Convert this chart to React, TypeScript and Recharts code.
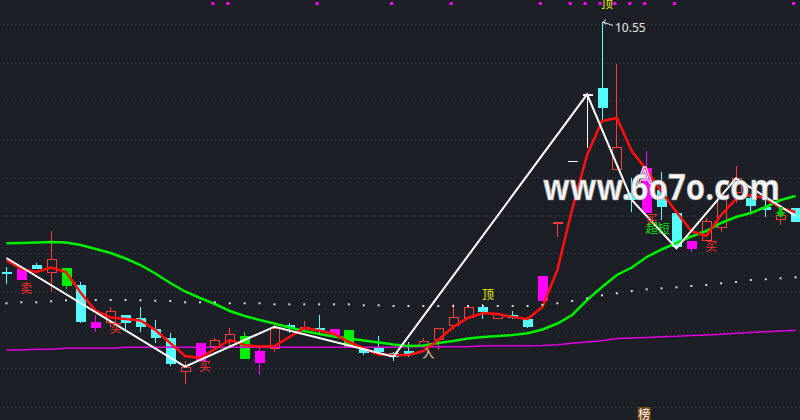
import React from "react";
import {
  ComposedChart,
  Bar,
  Line,
  XAxis,
  YAxis,
  CartesianGrid,
  ReferenceDot,
} from "recharts";

// candle kinds: c = falling (cyan), r = rising (red hollow), m = magenta, g = green, w = white
const kinds = "cmcrgcmrccccrmrrgmrcrcmgccccrrrrcrccmrwwcrcmccmrrrccrc".split("");

const open = [
  9.3, 9.315, 9.335, 9.293, 9.321, 9.235, 9.05, 9.046, 9.085, 9.07,
  9.015, 8.971, 8.798, 8.946, 8.925, 8.948, 8.981, 8.905, 8.913, 9.035,
  9.013, 9.02, 9.015, 9.01, 8.913, 8.918, 8.893, 8.905, 8.925, 8.96,
  9.031, 9.068, 9.123, 9.065, 9.085, 9.065, 9.28, 9.543, 9.856, 10.188,
  10.218, 9.81, 9.695, 9.818, 9.71, 9.593, 9.456, 9.456, 9.52, 9.693,
  9.671, 9.626, 9.56, 9.618,
];
const close = [
  9.29, 9.26, 9.314, 9.363, 9.231, 9.051, 9.021, 9.105, 9.046, 9.026,
  8.972, 8.838, 8.826, 8.855, 8.96, 8.99, 8.865, 8.843, 9.02, 9.02,
  9.026, 9.01, 8.981, 8.918, 8.896, 8.901, 8.876, 8.89, 8.955, 9.022,
  9.073, 9.123, 9.098, 9.088, 9.068, 9.026, 9.156, 9.551, 9.856, 10.188,
  10.118, 9.926, 9.66, 9.593, 9.626, 9.426, 9.413, 9.555, 9.675, 9.768,
  9.63, 9.61, 9.585, 9.551,
];
const high = [
  9.325, 9.315, 9.347, 9.505, 9.321, 9.248, 9.085, 9.123, 9.085, 9.125,
  9.06, 8.996, 8.855, 8.946, 8.972, 9.021, 8.998, 8.921, 9.045, 9.047,
  9.055, 9.085, 9.015, 9.01, 8.913, 8.98, 8.901, 8.95, 8.968, 9.022,
  9.14, 9.123, 9.14, 9.088, 9.105, 9.076, 9.28, 9.551, 9.856, 10.188,
  10.55, 10.338, 9.768, 9.905, 9.801, 9.593, 9.456, 9.57, 9.675, 9.83,
  9.685, 9.66, 9.635, 9.618,
];
const low = [
  9.24, 9.26, 9.314, 9.2, 9.215, 9.043, 9.0, 9.025, 9.01, 9.001,
  8.945, 8.83, 8.738, 8.855, 8.91, 8.93, 8.865, 8.785, 8.9, 8.993,
  9.01, 8.995, 8.981, 8.918, 8.885, 8.89, 8.856, 8.875, 8.925, 8.91,
  9.015, 9.068, 9.063, 9.065, 9.063, 9.021, 9.156, 9.473, 9.856, 9.918,
  10.05, 9.81, 9.601, 9.593, 9.56, 9.413, 9.401, 9.456, 9.5, 9.643,
  9.601, 9.576, 9.535, 9.551,
];

// red fast line
const fastLine = [
  9.36, 9.315, 9.3, 9.3225, 9.3, 9.195, 9.105, 9.0725, 9.065, 9.0575,
  9.01, 8.945, 8.88, 8.87, 8.915, 8.96, 8.935, 8.927, 8.93, 8.975,
  9.02, 9.0075, 8.99, 8.95, 8.9175, 8.8875, 8.885, 8.885, 8.905, 8.96,
  9.025, 9.07, 9.095, 9.09, 9.075, 9.065, 9.125, 9.31, 9.615, 9.885,
  10.055, 10.07, 9.905, 9.81, 9.7, 9.6, 9.505, 9.48, 9.585, 9.665,
  9.685, 9.6675, 9.62, 9.6,
];
// green slow line
const slowLine = [
  9.4435, 9.445, 9.4475, 9.45, 9.4475, 9.435, 9.415, 9.395, 9.3675, 9.335,
  9.2925, 9.245, 9.2025, 9.17, 9.14, 9.105, 9.08, 9.06, 9.0425, 9.0225,
  9.005, 8.99, 8.9775, 8.9675, 8.9575, 8.9475, 8.9375, 8.93, 8.9325, 8.945,
  8.955, 8.9675, 8.975, 8.98, 8.985, 8.9935, 9.0125, 9.0425, 9.085, 9.16,
  9.225, 9.285, 9.3225, 9.375, 9.4125, 9.445, 9.4775, 9.505, 9.545, 9.575,
  9.595, 9.625, 9.66, 9.68,
];
// magenta long line
const longLine = [
  8.91, 8.91, 8.9135, 8.9135, 8.9185, 8.9185, 8.9185, 8.9185, 8.9235, 8.9235,
  8.9235, 8.9235, 8.9235, 8.9235, 8.9235, 8.9235, 8.9235, 8.9235, 8.9235, 8.9235,
  8.9235, 8.9235, 8.9235, 8.9235, 8.9235, 8.9235, 8.9235, 8.9265, 8.9265, 8.9265,
  8.9265, 8.9265, 8.9315, 8.9315, 8.9315, 8.9315, 8.9325, 8.9365, 8.9435, 8.95,
  8.9565, 8.9675, 8.97, 8.9725, 8.9765, 8.9785, 8.9825, 8.985, 8.9885, 8.9935,
  8.9975, 9.0015, 9.005, 9.0085,
];
// white dotted line
const dotLine = [
  9.1435, 9.1485, 9.1485, 9.1535, 9.1585, 9.16, 9.16, 9.16, 9.16, 9.1585,
  9.1565, 9.155, 9.1485, 9.1485, 9.1485, 9.1435, 9.1435, 9.1435, 9.1385, 9.1385,
  9.1385, 9.1385, 9.1385, 9.1385, 9.1335, 9.1335, 9.13, 9.13, 9.13, 9.13,
  9.13, 9.13, 9.13, 9.13, 9.13, 9.13, 9.135, 9.1435, 9.155, 9.1685,
  9.1835, 9.1935, 9.205, 9.2135, 9.2185, 9.2235, 9.23, 9.235, 9.2435, 9.25,
  9.26, 9.2635, 9.2685, 9.2735,
];
// white zigzag turning points
const zigIdx = [0, 12, 18, 26, 39, 42, 45, 49, 53];
const zigVal = [9.37, 8.8265, 9.0265, 8.8765, 10.1885, 9.66, 9.4185, 9.7685, 9.58];

// magenta signal squares along the top
const signalIdx = [14, 15, 21, 26, 30, 36, 38, 39, 40, 41, 42, 43, 45, 53];
const SIGNAL_LEVEL = 10.6425;

// text marks
const markIdx = [1, 7, 13, 28, 32, 40, 43, 43, 47];
const markVal = [9.25, 9.05, 8.86, 8.925, 9.22, 10.675, 9.595, 9.55, 9.46];
const markText = ["卖", "买", "买", "入", "顶", "顶", "买", "超短", "买"];

const markColor: Record<string, string> = {
  卖: "#ff3030",
  买: "#ff3030",
  入: "#f2d0b0",
  顶: "#f0f000",
  超短: "#10e010",
};

const CANDLE_COLOR: Record<string, string> = {
  c: "#54fcfc",
  r: "#ff3c3c",
  m: "#ff00ff",
  g: "#00f000",
  w: "#ffffff",
};

const data = open.map((o, i) => {
  const z = zigIdx.indexOf(i);
  return {
    i,
    open: o,
    close: close[i],
    high: high[i],
    low: low[i],
    kind: kinds[i],
    range: [low[i], high[i]],
    fast: fastLine[i],
    slow: slowLine[i],
    longLine: longLine[i],
    dotLine: dotLine[i],
    zig: z >= 0 ? zigVal[z] : null,
    sig: signalIdx.includes(i) ? SIGNAL_LEVEL : null,
  };
});

const CJK = '"Noto Sans CJK SC", "Noto Sans", sans-serif';

const Candle = (props: any) => {
  const { x, y, width, height, payload } = props;
  if (!payload || x == null) return <g />;
  const { open: o, close: c, high: h, low: l, kind } = payload;
  const color = CANDLE_COLOR[kind];
  const top0 = Math.min(y, y + height);
  const hgt = Math.abs(height);
  const range = h - l;
  const toY = (v: number) => (range > 0 ? top0 + ((h - v) / range) * hgt : top0);
  const bTop = toY(Math.max(o, c));
  const bBot = toY(Math.min(o, c));
  const cx = Math.round(x + width / 2) + 0.5;
  const left = Math.round(cx - width / 2);
  if (kind === "r") {
    return (
      <g shapeRendering="crispEdges">
        <line x1={cx} x2={cx} y1={top0} y2={bTop} stroke={color} />
        <line x1={cx} x2={cx} y1={bBot} y2={top0 + hgt} stroke={color} />
        <rect
          x={left + 0.5}
          y={bTop + 0.5}
          width={width - 1}
          height={Math.max(bBot - bTop - 1, 1)}
          fill="none"
          stroke={color}
        />
      </g>
    );
  }
  return (
    <g shapeRendering="crispEdges">
      <line x1={cx} x2={cx} y1={top0} y2={top0 + hgt} stroke={color} />
      <rect x={left} y={bTop} width={width} height={Math.max(bBot - bTop, 1.5)} fill={color} />
    </g>
  );
};

const DotMark = (p: any) => {
  if (p.cy == null || p.value == null) return <g key={`d${p.index}`} />;
  return <rect key={`d${p.index}`} x={p.cx - 1} y={p.cy - 1} width={2} height={2} fill="#d8d8d8" />;
};

const SignalMark = (p: any) => {
  if (p.cy == null || p.value == null) return <g key={`s${p.index}`} />;
  return <rect key={`s${p.index}`} x={p.cx - 3.5} y={p.cy - 1.5} width={3} height={3} fill="#ff00ff" />;
};

export default function App() {
  const peak = high.indexOf(Math.max(...high));
  return (
    <div
      style={{
        position: "fixed",
        left: 0,
        top: 0,
        width: 800,
        height: 420,
        overflow: "hidden",
        background: "#1c1f26",
      }}
    >
      <div style={{ position: "absolute", left: -1.4, top: 0 }}>
        <ComposedChart width={804} height={420} data={data} margin={{ top: 0, right: 0, bottom: 0, left: 0 }}>
          <CartesianGrid
            vertical={false}
            horizontalPoints={[25, 63, 101, 140, 178, 216, 254, 292, 331, 369, 407]}
            stroke="#40434b"
            strokeDasharray="1 3"
          />
          <XAxis dataKey="i" type="category" hide />
          <YAxis type="number" domain={[8.56, 10.66]} hide allowDataOverflow />
          <Line
            dataKey="longLine"
            stroke="#e000e0"
            strokeWidth={1.5}
            dot={false}
            activeDot={false}
            isAnimationActive={false}
          />
          <Line
            dataKey="dotLine"
            stroke="none"
            dot={DotMark}
            activeDot={false}
            isAnimationActive={false}
          />
          <Line
            dataKey="slow"
            stroke="#00ee00"
            strokeWidth={2.5}
            dot={false}
            activeDot={false}
            isAnimationActive={false}
          />
          <Bar dataKey="range" barSize={10} shape={Candle} isAnimationActive={false} />
          <Line
            dataKey="fast"
            stroke="#ff1010"
            strokeWidth={2.5}
            dot={false}
            activeDot={false}
            isAnimationActive={false}
          />
          <Line
            dataKey="zig"
            stroke="#ffffff"
            strokeWidth={2}
            connectNulls
            dot={false}
            activeDot={false}
            isAnimationActive={false}
          />
          <Line
            dataKey="sig"
            stroke="none"
            dot={SignalMark}
            activeDot={false}
            isAnimationActive={false}
          />
          {markIdx.map((mi, k) => (
            <ReferenceDot
              key={`m${k}`}
              x={mi}
              y={markVal[k]}
              ifOverflow="visible"
              shape={(p: any) => (
                <text
                  x={p.cx - 1}
                  y={p.cy + 10.5}
                  fill={markColor[markText[k]]}
                  fontSize={12}
                  fontFamily={CJK}
                  textAnchor="start"
                >
                  {markText[k]}
                </text>
              )}
            />
          ))}
          <ReferenceDot
            x={43}
            y={9.825}
            ifOverflow="visible"
            shape={(p: any) => (
              <text
                x={p.cx - 2}
                y={p.cy + 17}
                fill="none"
                stroke="#ffffff"
                strokeWidth={1}
                fontSize={23}
                fontFamily="DejaVu Sans"
                textAnchor="middle"
              >
                A
              </text>
            )}
          />
          <ReferenceDot
            x={52}
            y={9.625}
            ifOverflow="visible"
            shape={(p: any) => (
              <path
                d={`M${p.cx - 2},${p.cy} h4 v5 h3 l-5,6 l-5,-6 h3 z`}
                fill="#10c010"
              />
            )}
          />
          <ReferenceDot
            x={43}
            y={8.625}
            ifOverflow="visible"
            shape={(p: any) => (
              <g>
                <rect x={p.cx - 9} y={p.cy} width={13} height={14} fill="#7a4512" />
                <text x={p.cx - 2.5} y={p.cy + 11.5} fill="#ffffff" fontSize={12} fontFamily={CJK} textAnchor="middle">
                  榜
                </text>
              </g>
            )}
          />
          <ReferenceDot
            x={peak}
            y={high[peak]}
            ifOverflow="visible"
            shape={(p: any) => (
              <g>
                <path
                  d={`M${p.cx + 11},${p.cy + 3.5} L${p.cx + 1},${p.cy} M${p.cx + 1},${p.cy} l3,-2.5 M${p.cx + 1},${p.cy} l3,2.5`}
                  stroke="#e8e8e8"
                  strokeWidth={1}
                  fill="none"
                />
                <text x={p.cx + 13} y={p.cy + 9.5} fill="#e6e6e6" fontSize={12} fontFamily="Noto Sans">
                  {high[peak].toFixed(2)}
                </text>
              </g>
            )}
          />
        </ComposedChart>
      </div>
      <svg width={800} height={420} style={{ position: "absolute", left: 0, top: 0, pointerEvents: "none" }}>
        <text
          x={543}
          y={200}
          fill="#f4f4f4"
          stroke="#9a9a9a"
          strokeWidth={0.6}
          fontSize={35}
          fontWeight="bold"
          fontFamily="Noto Sans"
          textLength={237}
          lengthAdjust="spacingAndGlyphs"
        >
          www.6o7o.com
        </text>
      </svg>
    </div>
  );
}
